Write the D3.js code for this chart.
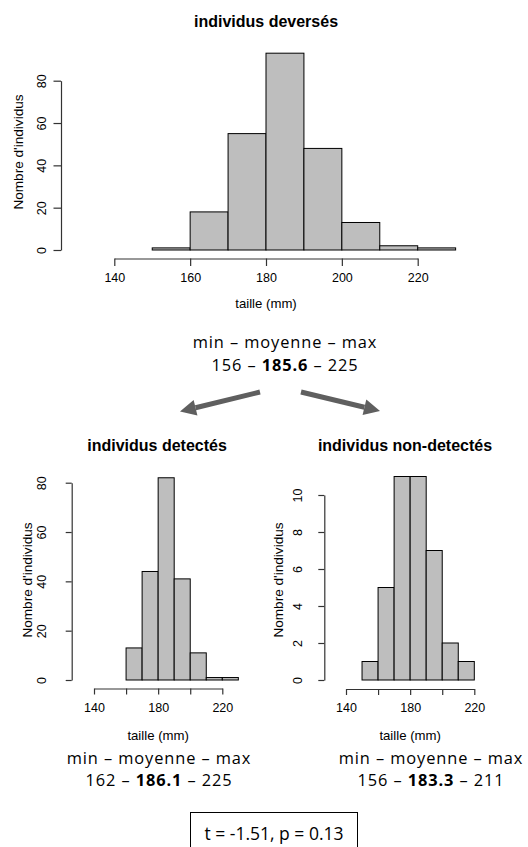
<!DOCTYPE html>
<html>
<head>
<meta charset="utf-8">
<script src="https://cdn.jsdelivr.net/npm/d3@7"></script>
<style>
  body { margin: 0; background: #fff; }
  svg { display: block; }
  .r { font-family: "Liberation Sans", Arial, sans-serif; fill: #000; }
  .cal { font-family: "Open Sans", sans-serif; fill: #000; }
</style>
</head>
<body>
<div id="container"></div>
<script>
/* DATA */
// bins of 10 mm, left edges
const binStarts = [150, 160, 170, 180, 190, 200, 210, 220];
const countsAll = [1, 18, 55, 93, 48, 13, 2, 1];
const countsDetected = [0, 13, 44, 82, 41, 11, 1, 1];
const countsUndetected = [1, 5, 11, 11, 7, 2, 1, 0];
const binWidth = 10;

const xTicks = [140, 160, 180, 200, 220];
const xLabelsTop = [140, 160, 180, 200, 220];
const xLabelsSmall = [140, 180, 220];
const yTicksBig = [0, 20, 40, 60, 80];
const yTicksSmall = [0, 2, 4, 6, 8, 10];

const titles = ["individus deversés", "individus detectés", "individus non-detectés"];
const statsHeader = "min – moyenne – max";
const statsMin = [156, 162, 156];
const statsMean = ["185.6", "186.1", "183.3"];
const statsMax = [225, 225, 211];
const testText = "t = -1.51, p = 0.13";

/* CONSTANTS */
const width = 528, height = 847;

const svg = d3.select("#container")
  .append("svg")
  .attr("width", width)
  .attr("height", height)

// one histogram panel, R style
function histPanel(cfg) {
  const x = d3.scaleLinear().domain([140, 220]).range(cfg.xr)
  const y = d3.scaleLinear().domain(cfg.yd).range(cfg.yr)

  const g = svg.append("g")

  // R leaves out the bins outside the data range
  const bins = binStarts.map((b, i) => ({ x0: b, x1: b + binWidth, n: cfg.counts[i] }))
    .filter(d => d.n > 0)

  g.selectAll("rect")
    .data(bins)
    .join("rect")
    .attr("x", d => x(d.x0))
    .attr("y", d => y(d.n))
    .attr("width", d => x(d.x1) - x(d.x0))
    .attr("height", d => y(0) - y(d.n))
    .attr("fill", "#bebebe")
    .attr("stroke", "#000")
    .attr("stroke-width", 1)

  // x axis
  const xAxis = d3.axisBottom(x)
    .tickValues(xTicks)
    .tickSizeInner(cfg.tick)
    .tickSizeOuter(0)
    .tickFormat(d => cfg.xLabels.includes(d) ? d : "")
  const gx = g.append("g")
    .attr("transform", `translate(0,${cfg.xAxisY})`)
    .call(xAxis)
  gx.attr("font-family", null).attr("font-size", null)
  gx.selectAll("path, line").attr("stroke", "#333").attr("stroke-width", 1.2)
  gx.selectAll("text")
    .attr("class", "r")
    .attr("font-size", 12.5)
    .attr("y", 0)
    .attr("dy", 0)
    .attr("transform", `translate(0,${cfg.xLabY})`)
    .attr("dominant-baseline", "central")

  // y axis
  const yAxis = d3.axisLeft(y)
    .tickValues(cfg.yTicks)
    .tickSizeInner(cfg.tick)
    .tickSizeOuter(0)
  const gy = g.append("g")
    .attr("transform", `translate(${cfg.yAxisX},0)`)
    .call(yAxis)
  gy.attr("font-family", null).attr("font-size", null)
  gy.selectAll("path, line").attr("stroke", "#333").attr("stroke-width", 1.2)
  gy.selectAll("text")
    .attr("class", "r")
    .attr("font-size", 12.5)
    .attr("x", 0)
    .attr("dy", 0)
    .attr("transform", `translate(${-cfg.yLabOff},0) rotate(-90)`)
    .attr("text-anchor", "middle")
    .attr("dominant-baseline", "central")

  // axis titles
  g.append("text")
    .attr("class", "r")
    .attr("x", (cfg.xr[0] + cfg.xr[1]) / 2)
    .attr("y", cfg.xTitleY)
    .attr("text-anchor", "middle")
    .attr("dominant-baseline", "central")
    .attr("font-size", 13.2)
    .text("taille (mm)")

  g.append("text")
    .attr("class", "r")
    .attr("transform", `translate(${cfg.yTitleX},${cfg.yTitleY}) rotate(-90)`)
    .attr("text-anchor", "middle")
    .attr("dominant-baseline", "central")
    .attr("font-size", 13.6)
    .text("Nombre d'individus")

  // title
  g.append("text")
    .attr("class", "r")
    .attr("x", cfg.titleX)
    .attr("y", cfg.titleY)
    .attr("text-anchor", "middle")
    .attr("dominant-baseline", "central")
    .attr("font-size", 16)
    .attr("font-weight", "bold")
    .text(cfg.title)
}

histPanel({
  counts: countsAll, yd: [0, 80], yTicks: yTicksBig,
  xr: [114.3, 417.7], yr: [250, 80.7],
  xAxisY: 258.5, xLabY: 19, xLabels: xLabelsTop, tick: 7.5,
  yAxisX: 61, yLabOff: 19, xTitleY: 303, yTitleX: 18, yTitleY: 152,
  title: titles[0], titleX: 266, titleY: 21
})

histPanel({
  counts: countsDetected, yd: [0, 80], yTicks: yTicksBig,
  xr: [94, 222.3], yr: [680, 482.7],
  xAxisY: 688.5, xLabY: 19.5, xLabels: xLabelsSmall, tick: 6,
  yAxisX: 71.7, yLabOff: 30, xTitleY: 735, yTitleX: 27.5, yTitleY: 580,
  title: titles[1], titleX: 157, titleY: 445
})

histPanel({
  counts: countsUndetected, yd: [0, 10], yTicks: yTicksSmall,
  xr: [346, 474.3], yr: [680, 495],
  xAxisY: 689, xLabY: 19, xLabels: xLabelsSmall, tick: 6,
  yAxisX: 324.3, yLabOff: 26, xTitleY: 735, yTitleX: 278.3, yTitleY: 580,
  title: titles[2], titleX: 405, titleY: 445
})

// min - mean - max blocks
const statPos = [
  { x: 285, y: 341, gap: 22.5 },
  { x: 159, y: 756.5, gap: 22.5 },
  { x: 431, y: 756.5, gap: 22.5 }
]
statPos.forEach((p, i) => {
  const t = svg.append("text")
    .attr("class", "cal")
    .attr("x", p.x).attr("y", p.y)
    .attr("text-anchor", "middle")
    .attr("dominant-baseline", "central")
    .attr("font-size", 16.4)
    .attr("letter-spacing", 0.9)
  t.append("tspan").attr("x", p.x).text(statsHeader)
  t.append("tspan").attr("x", p.x).attr("dy", p.gap).text(statsMin[i] + " – ")
  t.append("tspan").attr("font-weight", "bold").text(statsMean[i])
  t.append("tspan").text(" – " + statsMax[i])
})

// arrows
const arrows = [
  { x1: 260, y1: 392, x2: 180, y2: 411.5 },
  { x1: 301, y1: 392, x2: 380, y2: 411 }
]
arrows.forEach(a => {
  const ang = Math.atan2(a.y2 - a.y1, a.x2 - a.x1)
  const headLen = 16, headW = 8
  const bx = a.x2 - headLen * Math.cos(ang), by = a.y2 - headLen * Math.sin(ang)
  svg.append("line")
    .attr("x1", a.x1).attr("y1", a.y1)
    .attr("x2", bx).attr("y2", by)
    .attr("stroke", "#5f5f5f")
    .attr("stroke-width", 5)
  const nx = -Math.sin(ang), ny = Math.cos(ang)
  svg.append("polygon")
    .attr("points", [
      [a.x2, a.y2],
      [bx + nx * headW, by + ny * headW],
      [bx - nx * headW, by - ny * headW]
    ].map(p => p.join(",")).join(" "))
    .attr("fill", "#5f5f5f")
})

// t-test box
svg.append("rect")
  .attr("x", 190.5).attr("y", 812.5)
  .attr("width", 167).attr("height", 50)
  .attr("fill", "none")
  .attr("stroke", "#000")
  .attr("stroke-width", 1)

svg.append("text")
  .attr("class", "cal")
  .attr("x", 274).attr("y", 833)
  .attr("text-anchor", "middle")
  .attr("dominant-baseline", "central")
  .attr("font-size", 17.5)
  .text(testText)
</script>
</body>
</html>
